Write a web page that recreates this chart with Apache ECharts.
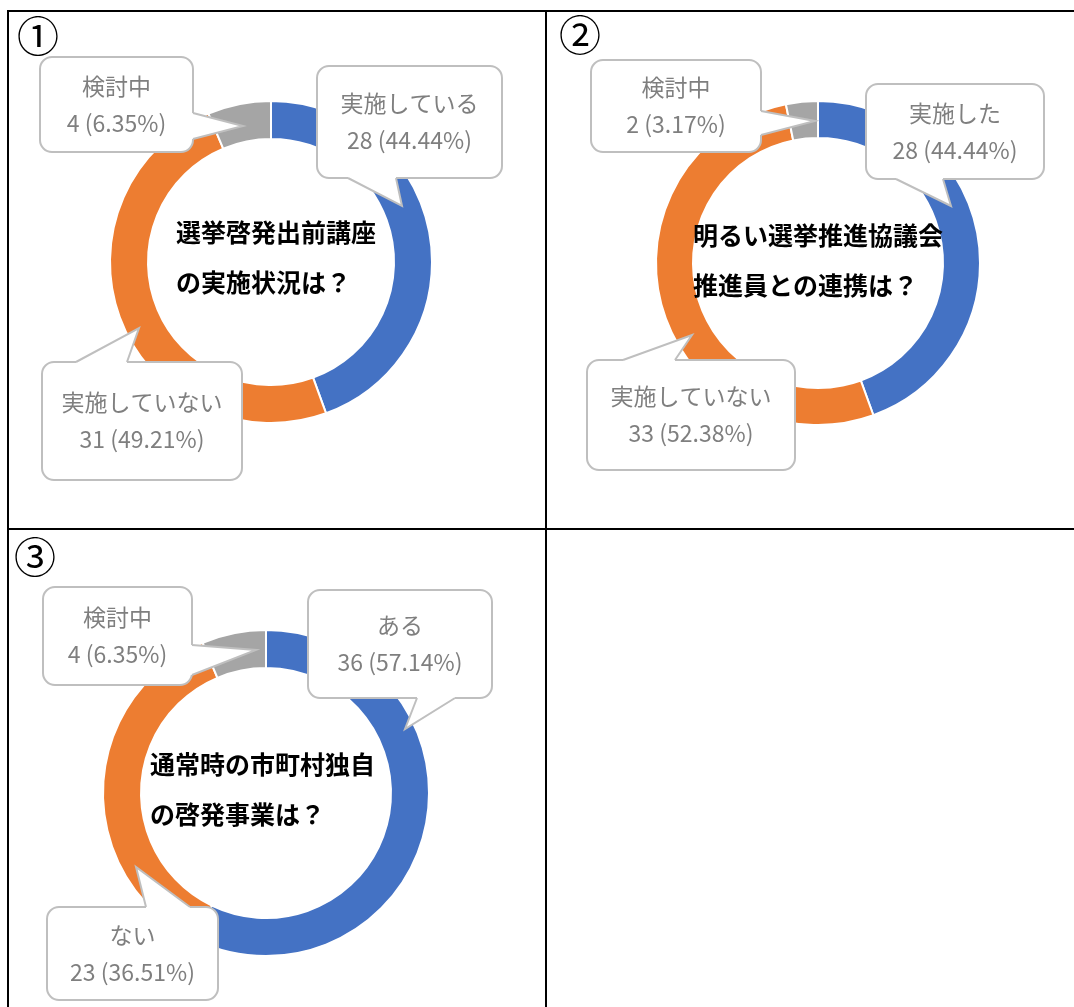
<!DOCTYPE html>
<html>
<head>
<meta charset="utf-8">
<style type="text/css">
html, body{margin: 0; padding: 0; background: #fff}
#main{width: 1074px; height: 1007px}
</style>
<script src="https://cdn.jsdelivr.net/npm/echarts@6/dist/echarts.min.js"></script>
</head>
<body>
<div id="main"></div>
<script type="text/javascript">
// データ
var names1 = ['実施している', '実施していない', '検討中'];
var values1 = [28, 31, 4];
var names2 = ['実施した', '実施していない', '検討中'];
var values2 = [28, 33, 2];
var names3 = ['ある', 'ない', '検討中'];
var values3 = [36, 23, 4];
var titles = [
    '選挙啓発出前講座\nの実施状況は？',
    '明るい選挙推進協議会\n推進員との連携は？',
    '通常時の市町村独自\nの啓発事業は？'
];
var marks = ['①', '②', '③'];

var colors = ['#4472C4', '#ED7D31', '#A5A5A5'];
var font = '"Noto Sans CJK JP", "Noto Sans", sans-serif';

// レイアウト（ドーナツの位置・吹き出しの位置）
var pies = [
    {center: [271, 262], radius: [123, 161], title: [176, 257], mark: [38, 36]},
    {center: [818, 263], radius: [125, 162], title: [693, 260], mark: [580, 35]},
    {center: [266, 793], radius: [125, 163], title: [150, 789], mark: [35, 557]}
];
// box: [x, y, w, h], side, base: [a, b], tip: [x, y]
var bubbles = [
    [
        {box: [317, 66, 185, 112], side: 'bottom', base: [348, 396], tip: [402, 206]},
        {box: [42, 362, 200, 118], side: 'top', base: [76, 127], tip: [139, 328]},
        {box: [40, 57, 153, 95], side: 'right', base: [113, 139], tip: [243, 126]}
    ],
    [
        {box: [866, 84, 178, 95], side: 'bottom', base: [896, 943], tip: [951, 206]},
        {box: [587, 360, 208, 110], side: 'top', base: [623, 675], tip: [692, 335]},
        {box: [591, 60, 170, 92], side: 'right', base: [111, 135], tip: [815, 121]}
    ],
    [
        {box: [308, 590, 184, 108], side: 'bottom', base: [417, 455], tip: [405, 729]},
        {box: [47, 907, 171, 93], side: 'top', base: [146, 190], tip: [136, 867]},
        {box: [43, 587, 149, 98], side: 'right', base: [645, 675], tip: [256, 650]}
    ]
];

var datasets = [[names1, values1], [names2, values2], [names3, values3]];

var myChart = echarts.init(document.getElementById('main'));

var series = [];
var graphic = [];

// 表の罫線
var lineStyle = {stroke: '#000', lineWidth: 2};
graphic.push({type: 'line', shape: {x1: 8, y1: 11, x2: 1074, y2: 11}, style: lineStyle});
graphic.push({type: 'line', shape: {x1: 8, y1: 529, x2: 1074, y2: 529}, style: lineStyle});
graphic.push({type: 'line', shape: {x1: 8, y1: 10, x2: 8, y2: 1007}, style: lineStyle});
graphic.push({type: 'line', shape: {x1: 546, y1: 10, x2: 546, y2: 1007}, style: lineStyle});

function makeBubble(b, text) {
    var x = b.box[0], y = b.box[1], w = b.box[2], h = b.box[3];
    var p1, p2, q1, q2;
    if (b.side === 'bottom') {
        p1 = [b.base[0], y + h]; p2 = [b.base[1], y + h];
        q1 = [b.base[0], y + h - 3]; q2 = [b.base[1], y + h - 3];
    } else if (b.side === 'top') {
        p1 = [b.base[0], y]; p2 = [b.base[1], y];
        q1 = [b.base[0], y + 3]; q2 = [b.base[1], y + 3];
    } else {
        p1 = [x + w, b.base[0]]; p2 = [x + w, b.base[1]];
        q1 = [x + w - 3, b.base[0]]; q2 = [x + w - 3, b.base[1]];
    }
    return [
        {type: 'rect', z: 100, shape: {x: x, y: y, width: w, height: h, r: 12},
            style: {fill: '#fff', stroke: '#BFBFBF', lineWidth: 2}},
        {type: 'polygon', z: 101, shape: {points: [q1, p1, b.tip, p2, q2]},
            style: {fill: '#fff'}},
        {type: 'polyline', z: 102, shape: {points: [p1, b.tip, p2]},
            style: {fill: null, stroke: '#BFBFBF', lineWidth: 2}},
        {type: 'text', z: 103, x: x + w / 2, y: y + h / 2,
            style: {text: text, align: 'center', verticalAlign: 'middle',
                fontFamily: font, fontSize: 23, lineHeight: 37, fill: '#7F7F7F'}}
    ];
}

datasets.forEach(function (ds, i) {
    var names = ds[0], values = ds[1];
    var total = values.reduce(function (a, b) { return a + b; }, 0);
    series.push({
        type: 'pie',
        center: pies[i].center,
        radius: pies[i].radius,
        startAngle: 90,
        clockwise: true,
        silent: true,
        label: {show: false},
        labelLine: {show: false},
        itemStyle: {borderColor: '#fff', borderWidth: 2},
        data: names.map(function (n, k) {
            return {name: n, value: values[k], itemStyle: {color: colors[k]}};
        })
    });
    // 中央の文字
    graphic.push({type: 'text', z: 50, x: pies[i].title[0], y: pies[i].title[1],
        style: {text: titles[i], align: 'left', verticalAlign: 'middle',
            fontFamily: font, fontSize: 25, fontWeight: 'bold', lineHeight: 50, fill: '#000'}});
    graphic.push({type: 'text', z: 50, x: pies[i].mark[0], y: pies[i].mark[1],
        style: {text: marks[i], align: 'center', verticalAlign: 'middle',
            fontFamily: font, fontSize: 42, fill: '#000'}});
    // 吹き出し
    names.forEach(function (n, k) {
        var pct = (values[k] / total * 100).toFixed(2);
        var txt = n + '\n' + values[k] + ' (' + pct + '%)';
        graphic = graphic.concat(makeBubble(bubbles[i][k], txt));
    });
});

var option = {
    animation: false,
    graphic: graphic,
    series: series
};
myChart.setOption(option, true);
</script>
</body>
</html>
